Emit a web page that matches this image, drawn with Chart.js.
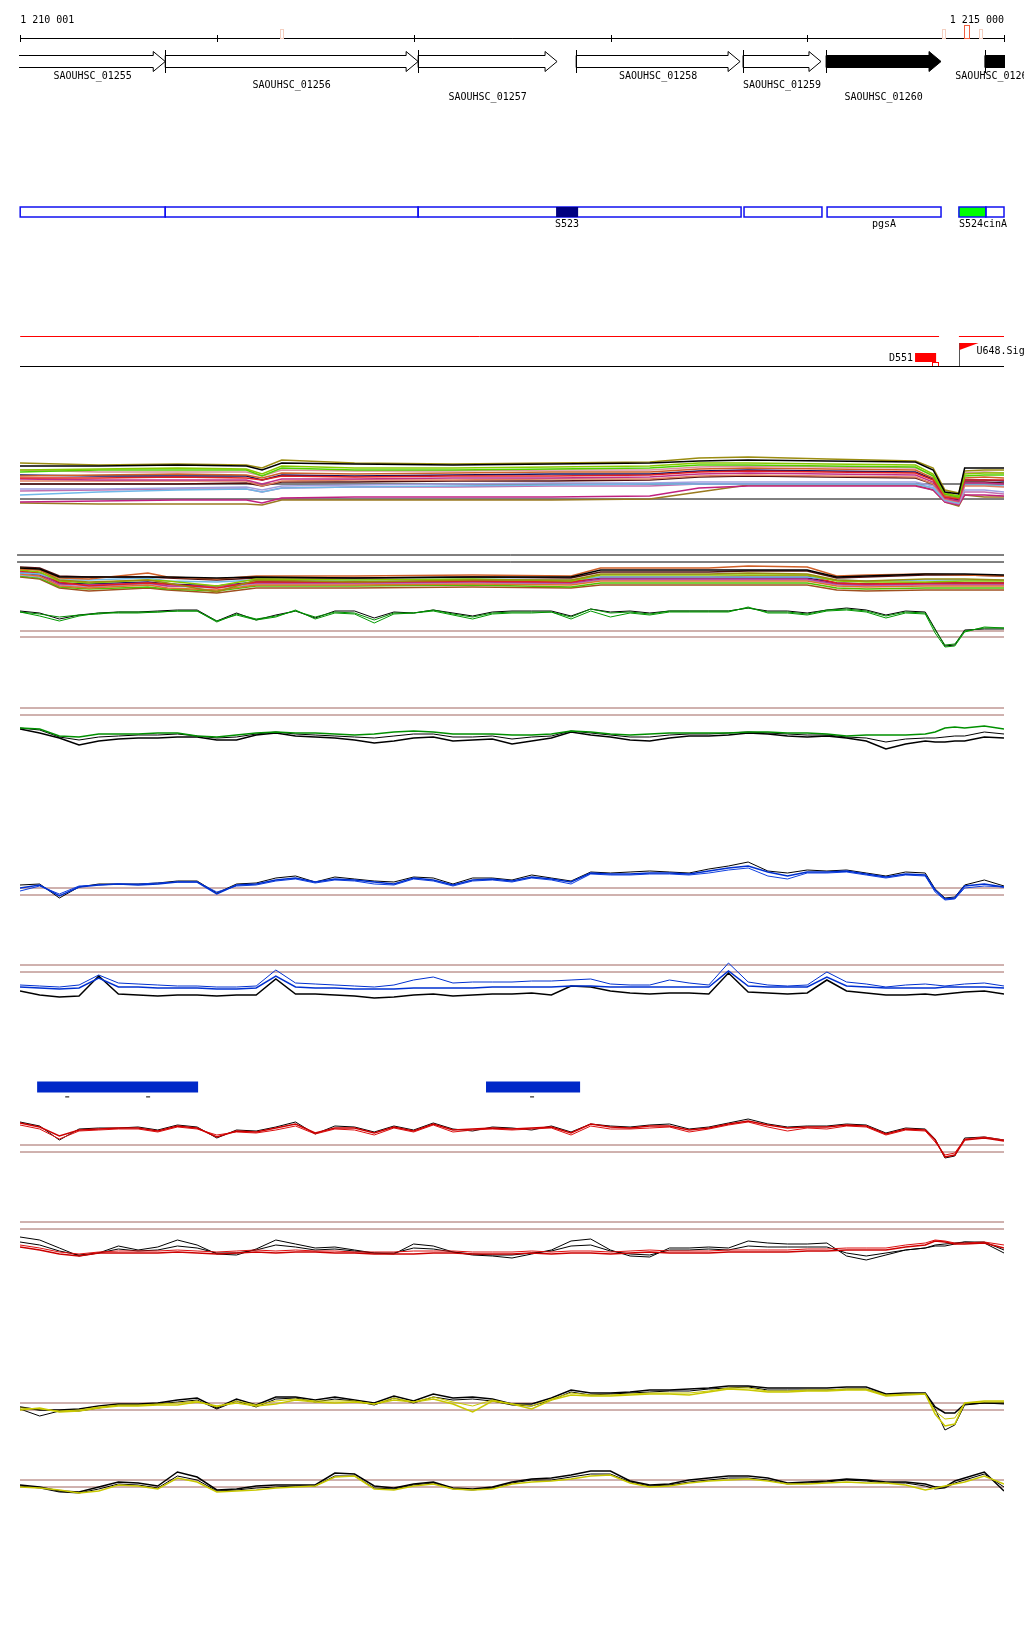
<!DOCTYPE html>
<html>
<head>
<meta charset="utf-8">
<script src="https://cdn.jsdelivr.net/npm/chart.js@4.4.1/dist/chart.umd.min.js"></script>
<style>
  body { margin: 0; background: #fff; }
  #page { position: relative; width: 1024px; height: 1640px; overflow: hidden; }
  #page canvas { position: absolute; left: 0; }
</style>
</head>
<body>
<div id="page"></div>
<script>
// ventana genomica
var startPos = 1210000, endPos = 1215000;
var rulerTicks = [1210001, 1211001, 1212001, 1213001, 1214001, 1215000];
var rulerLabels = ['1 210 001', '1 215 000'];
var markerPos = [1211327, 1214691, 1214808, 1214879];
var markerStrong = [false, false, true, false];

// genes
var geneNames = ['SAOUHSC_01255', 'SAOUHSC_01256', 'SAOUHSC_01257', 'SAOUHSC_01258', 'SAOUHSC_01259', 'SAOUHSC_01260', 'SAOUHSC_01261'];
var geneStarts = [1209800, 1210738, 1212023, 1212826, 1213674, 1214096, 1214903];
var geneEnds = [1210738, 1212023, 1212729, 1213659, 1214070, 1214680, 1215300];
var geneFilled = [false, false, false, false, false, true, true];
var geneRow = [0, 1, 2, 0, 1, 2, 0];

// anotaciones (cajas azules)
var featStarts = [1210001, 1210738, 1212023, 1212724, 1213679, 1214101, 1214771, 1214908];
var featEnds = [1210738, 1212023, 1213664, 1212836, 1214075, 1214680, 1214908, 1215000];
var featFill = ['', '', '', '#000080', '', '', '#00ff00', ''];
var featLabels = ['', '', '', 'S523', '', 'pgsA', 'S524cinA', ''];

// senales / promotores
var redLineStarts = [1210001, 1214771];
var redLineEnds = [1214670, 1215000];
var d551 = [1214548, 1214655];
var u648 = 1214771;

// posiciones de las curvas
var positions = [1210000,1210100,1210200,1210300,1210400,1210500,1210600,1210700,1210800,1210900,
  1211000,1211100,1211200,1211300,1211400,1211500,1211600,1211700,1211800,1211900,
  1212000,1212100,1212200,1212300,1212400,1212500,1212600,1212700,1212800,1212900,
  1213000,1213100,1213200,1213300,1213400,1213500,1213600,1213700,1213800,1213900,
  1214000,1214100,1214200,1214300,1214400,1214500,1214600,
  1214650,1214700,1214750,1214800,1214900,1215000];

// pista verde 1
var greenA = [1.9,1.7,1.4,1.6,1.7,1.9,1.9,1.9,2.0,2.0, 0.9,1.7,1.2,1.5,2.0,1.4,1.9,1.8,1.1,1.8,
  1.8,2.1,1.7,1.4,1.8,1.9,1.9,1.9,1.4,2.2, 1.8,1.9,1.7,2.0,2.0,2.0,2.0,2.3,1.9,1.9,
  1.7,2.1,2.2,2.0,1.5,1.9,1.8, 0.1,-1.4,-1.3,0.0,0.3,0.3];
var greenB = [1.9,1.5,1.0,1.5,1.8,1.8,1.8,1.9,2.0,2.0, 1.0,1.6,1.1,1.4,2.1,1.2,1.8,1.7,0.8,1.7,
  1.8,2.0,1.6,1.2,1.7,1.8,1.8,1.9,1.2,2.0, 1.4,1.8,1.6,1.9,1.9,1.9,1.9,2.4,1.8,1.8,
  1.6,2.0,2.1,1.9,1.3,1.8,1.7, -0.2,-1.6,-1.5,-0.1,0.4,0.3];
var greenBlack = [2.0,1.8,1.2,1.6,1.8,1.9,1.9,2.0,2.1,2.1, 1.0,1.8,1.1,1.6,2.0,1.3,2.0,2.0,1.3,1.9,
  1.8,2.1,1.8,1.5,1.9,2.0,2.0,2.0,1.5,2.2, 1.9,2.0,1.8,2.0,2.0,2.0,2.0,2.3,2.0,2.0,
  1.8,2.1,2.3,2.1,1.6,2.0,1.9, 0.2,-1.5,-1.4,0.1,0.2,0.2];

// pista verde 2
var greenD = [-2.0,-2.1,-2.8,-2.9,-2.6,-2.6,-2.6,-2.5,-2.5,-2.8, -2.9,-2.7,-2.5,-2.4,-2.5,-2.5,-2.6,-2.7,-2.6,-2.4,
  -2.3,-2.4,-2.6,-2.6,-2.6,-2.7,-2.7,-2.6,-2.3,-2.4, -2.6,-2.7,-2.6,-2.5,-2.5,-2.5,-2.5,-2.4,-2.4,-2.5,
  -2.5,-2.6,-2.8,-2.7,-2.7,-2.7,-2.6, -2.4,-2.0,-1.9,-2.0,-1.8,-2.1];
var blackD = [-2.1,-2.5,-3.0,-3.7,-3.3,-3.1,-3.0,-3.0,-2.9,-2.9, -3.2,-3.2,-2.7,-2.5,-2.8,-2.9,-3.0,-3.2,-3.5,-3.3,
  -3.0,-2.9,-3.3,-3.2,-3.1,-3.6,-3.3,-3.0,-2.4,-2.7, -2.9,-3.2,-3.3,-3.0,-2.8,-2.8,-2.7,-2.5,-2.6,-2.8,
  -2.9,-2.8,-3.0,-3.3,-4.1,-3.6,-3.3, -3.4,-3.4,-3.3,-3.3,-2.9,-3.0];
var black2D = [-2.0,-2.2,-2.9,-3.2,-2.9,-2.8,-2.7,-2.7,-2.6,-2.8, -3.0,-2.9,-2.6,-2.4,-2.6,-2.7,-2.8,-2.9,-3.0,-2.8,
  -2.6,-2.6,-2.9,-2.9,-2.8,-3.1,-2.9,-2.8,-2.3,-2.5, -2.7,-2.9,-2.9,-2.7,-2.6,-2.6,-2.5,-2.4,-2.5,-2.6,
  -2.7,-2.7,-2.9,-3.0,-3.4,-3.1,-3.0, -3.0,-2.9,-2.8,-2.8,-2.4,-2.6];

// pista azul 1
var blueE = [0.0,0.3,-0.8,0.1,0.3,0.4,0.3,0.4,0.6,0.6, -0.6,0.3,0.4,0.8,1.0,0.6,0.9,0.8,0.6,0.4,
  1.0,0.8,0.3,0.8,0.9,0.7,1.1,0.9,0.6,1.5, 1.4,1.4,1.5,1.5,1.4,1.7,2.0,2.2,1.6,1.2,
  1.6,1.6,1.7,1.4,1.1,1.4,1.3, -0.2,-1.1,-1.0,0.2,0.4,0.1];
var blue2E = [-0.3,0.2,-0.6,0.2,0.3,0.4,0.4,0.5,0.6,0.6, -0.4,0.2,0.3,0.7,0.9,0.5,0.8,0.7,0.4,0.3,
  0.9,0.7,0.2,0.7,0.8,0.6,1.0,0.8,0.4,1.4, 1.3,1.3,1.4,1.4,1.3,1.5,1.8,2.0,1.2,0.9,
  1.5,1.5,1.6,1.3,1.0,1.3,1.2, -0.4,-1.2,-1.1,0.0,0.2,0.1];
var blackE = [0.3,0.4,-1.0,0.1,0.4,0.4,0.4,0.5,0.7,0.7, -0.5,0.4,0.5,1.0,1.2,0.6,1.1,0.9,0.7,0.6,
  1.1,1.0,0.4,1.0,1.0,0.8,1.3,1.0,0.7,1.6, 1.5,1.6,1.7,1.6,1.5,1.9,2.2,2.6,1.7,1.5,
  1.8,1.7,1.8,1.5,1.2,1.6,1.5, -0.1,-1.0,-0.9,0.3,0.8,0.2];

// pista azul 2
var blueF = [-2.0,-2.1,-2.2,-2.0,-1.0,-1.8,-1.9,-2.0,-2.1,-2.1, -2.2,-2.2,-2.1,-0.5,-1.8,-1.9,-2.0,-2.1,-2.2,-2.0,
  -1.5,-1.2,-1.8,-1.7,-1.7,-1.7,-1.6,-1.6,-1.5,-1.4, -1.9,-2.0,-2.0,-1.5,-1.8,-2.0,0.2,-1.7,-2.0,-2.1,
  -2.0,-0.7,-1.7,-1.9,-2.2,-2.0,-1.9, -2.0,-2.1,-2.0,-1.9,-1.8,-2.1];
var blue2F = [-2.2,-2.3,-2.4,-2.3,-1.3,-2.2,-2.2,-2.3,-2.3,-2.3, -2.4,-2.4,-2.3,-1.1,-2.2,-2.3,-2.3,-2.4,-2.4,-2.4,
  -2.3,-2.3,-2.3,-2.3,-2.2,-2.2,-2.2,-2.2,-2.1,-2.1, -2.2,-2.2,-2.2,-2.2,-2.2,-2.2,-0.6,-2.1,-2.2,-2.2,
  -2.2,-1.2,-2.1,-2.2,-2.3,-2.3,-2.3, -2.3,-2.2,-2.2,-2.2,-2.2,-2.3];
var blackF = [-2.6,-3.0,-3.2,-3.1,-1.1,-2.9,-3.0,-3.1,-3.0,-3.0, -3.1,-3.0,-3.0,-1.4,-2.9,-2.9,-3.0,-3.1,-3.3,-3.2,
  -3.0,-2.9,-3.1,-3.0,-2.9,-2.9,-2.8,-3.0,-2.1,-2.2, -2.6,-2.8,-2.9,-2.8,-2.8,-2.9,-0.8,-2.7,-2.8,-2.9,
  -2.8,-1.5,-2.6,-2.8,-3.0,-3.0,-2.9, -3.0,-2.9,-2.8,-2.7,-2.6,-2.9];

// bloques azules
var blockStarts = [1210087, 1212368];
var blockEnds = [1210905, 1212846];
var blockMarks = [1210240, 1210651, 1212602];

// pista roja 1
var redH = [2.2,1.8,0.9,1.5,1.6,1.7,1.7,1.4,1.9,1.7, 0.8,1.4,1.3,1.7,2.1,1.2,1.7,1.7,1.2,1.8,
  1.4,2.1,1.5,1.6,1.7,1.6,1.7,1.8,1.2,2.1, 1.8,1.7,1.9,1.9,1.5,1.7,2.1,2.4,2.0,1.7,
  1.8,1.8,2.0,1.9,1.1,1.6,1.5, 0.5,-1.2,-1.0,0.5,0.7,0.4];
var red2H = [2.0,1.6,0.6,1.4,1.5,1.6,1.6,1.3,1.8,1.6, 1.0,1.3,1.2,1.5,1.9,1.1,1.6,1.5,1.0,1.7,
  1.3,2.0,1.3,1.5,1.6,1.5,1.6,1.7,1.0,1.9, 1.6,1.6,1.7,1.8,1.3,1.6,2.0,2.3,1.8,1.4,
  1.7,1.6,1.9,1.8,1.0,1.5,1.4, 0.3,-1.0,-0.8,0.6,0.8,0.5];
var blackH = [2.3,1.9,0.5,1.6,1.7,1.7,1.8,1.5,2.0,1.8, 0.7,1.5,1.4,1.8,2.3,1.1,1.9,1.8,1.3,1.9,
  1.5,2.2,1.6,1.4,1.8,1.7,1.5,1.9,1.3,2.1, 1.9,1.8,2.0,2.1,1.6,1.8,2.2,2.6,2.1,1.8,
  1.9,1.9,2.1,2.0,1.2,1.7,1.6, 0.6,-1.3,-1.1,0.7,0.8,0.5];

// pista roja 2
var redI = [-2.5,-2.8,-3.2,-3.4,-3.1,-3.1,-3.1,-3.1,-3.0,-3.1, -3.2,-3.1,-3.0,-3.1,-3.0,-3.0,-3.1,-3.1,-3.2,-3.2,
  -3.2,-3.1,-3.1,-3.2,-3.2,-3.2,-3.1,-3.2,-3.1,-3.1, -3.2,-3.1,-3.0,-3.1,-3.1,-3.1,-3.0,-3.0,-3.0,-3.0,
  -2.9,-2.9,-2.8,-2.8,-2.8,-2.5,-2.3, -1.9,-2.0,-2.2,-2.2,-2.1,-2.6];
var red2I = [-2.3,-2.6,-3.0,-3.2,-3.0,-2.9,-2.9,-2.9,-2.8,-2.9, -3.0,-2.9,-2.8,-2.9,-2.8,-2.9,-2.9,-3.0,-3.0,-3.0,
  -2.9,-2.9,-2.9,-3.0,-3.0,-3.0,-2.9,-3.0,-2.9,-2.9, -3.0,-2.9,-2.8,-2.9,-2.9,-2.9,-2.8,-2.8,-2.8,-2.8,
  -2.7,-2.7,-2.6,-2.6,-2.6,-2.3,-2.1, -1.8,-1.9,-2.1,-2.1,-2.0,-2.3];
var blackI = [-1.5,-1.8,-2.6,-3.4,-3.1,-2.4,-2.8,-2.5,-1.8,-2.3, -3.2,-3.3,-2.7,-1.8,-2.2,-2.6,-2.5,-2.8,-3.1,-3.2,
  -2.2,-2.4,-3.0,-3.3,-3.4,-3.6,-3.2,-2.8,-1.9,-1.7, -2.8,-3.4,-3.5,-2.6,-2.6,-2.5,-2.6,-1.9,-2.1,-2.2,
  -2.2,-2.1,-3.4,-3.8,-3.3,-2.8,-2.6, -2.4,-2.4,-2.2,-2.0,-2.1,-3.1];
var black2I = [-2.0,-2.3,-2.9,-3.3,-3.1,-2.7,-2.9,-2.8,-2.4,-2.6, -3.1,-3.1,-2.8,-2.3,-2.5,-2.8,-2.7,-2.9,-3.1,-3.1,
  -2.6,-2.7,-3.0,-3.2,-3.3,-3.3,-3.1,-2.9,-2.4,-2.3, -2.9,-3.2,-3.3,-2.8,-2.8,-2.7,-2.8,-2.4,-2.5,-2.5,
  -2.5,-2.5,-3.1,-3.4,-3.1,-2.8,-2.6, -2.3,-2.2,-2.1,-2.0,-2.0,-2.8];

// pista amarilla 1
var blackJ = [-0.4,-0.7,-0.7,-0.6,-0.3,-0.1,-0.1,0.0,0.3,0.5, -0.5,0.4,-0.2,0.6,0.6,0.3,0.6,0.3,0.0,0.7,
  0.2,0.9,0.5,0.6,0.4,-0.1,-0.1,0.5,1.3,1.0, 1.0,1.1,1.3,1.3,1.4,1.5,1.7,1.7,1.5,1.5,
  1.5,1.5,1.6,1.6,0.9,1.0,1.0, -0.4,-1.0,-1.0,-0.1,0.0,0.0];
var black2J = [-0.6,-1.3,-0.8,-0.8,-0.5,-0.2,-0.2,-0.1,0.1,0.3, -0.6,0.2,-0.4,0.4,0.5,0.1,0.4,0.2,-0.2,0.5,
  0.0,0.6,0.3,0.4,0.2,-0.2,-0.3,0.3,1.1,0.8, 0.9,1.0,1.1,1.2,1.2,1.4,1.5,1.6,1.3,1.3,
  1.3,1.3,1.4,1.4,0.8,0.9,0.9, -0.6,-2.7,-2.2,-0.2,0.0,-0.1];
var yellowJ = [-0.7,-0.5,-0.9,-0.8,-0.5,-0.3,-0.3,-0.2,-0.2,0.1, -0.3,0.0,-0.3,-0.1,0.3,0.1,0.0,0.1,-0.1,0.3,
  0.1,0.4,-0.1,-0.9,0.2,-0.1,-0.6,0.3,0.8,0.7, 0.7,0.8,0.9,0.9,0.8,1.1,1.4,1.3,1.1,1.1,
  1.2,1.2,1.3,1.3,0.7,0.8,0.9, -1.1,-2.3,-2.1,0.0,0.2,0.2];
var yellow2J = [-0.5,-0.6,-0.8,-0.7,-0.4,-0.2,-0.2,-0.1,0.0,0.2, -0.4,0.2,-0.2,0.2,0.4,0.2,0.2,0.2,-0.1,0.5,
  0.1,0.6,0.1,-0.3,0.3,-0.1,-0.3,0.4,1.0,0.8, 0.8,0.9,1.0,1.0,1.0,1.2,1.5,1.5,1.2,1.2,
  1.3,1.3,1.4,1.4,0.8,0.9,0.9, -0.8,-1.6,-1.5,0.0,0.1,0.1];

// pista amarilla 2
var blackK = [-0.5,-0.7,-1.1,-1.2,-0.7,-0.2,-0.3,-0.6,0.8,0.3, -1.0,-0.9,-0.6,-0.5,-0.5,-0.5,0.7,0.6,-0.6,-0.8,
  -0.4,-0.2,-0.8,-0.9,-0.7,-0.2,0.1,0.2,0.5,0.9, 0.9,-0.1,-0.5,-0.4,0.0,0.2,0.4,0.4,0.2,-0.3,
  -0.2,-0.1,0.1,0.0,-0.2,-0.2,-0.4, -0.7,-0.7,-0.1,0.2,0.8,-1.1];
var black2K = [-0.6,-0.8,-1.2,-1.3,-0.9,-0.4,-0.5,-0.8,0.4,0.0, -1.1,-1.0,-0.8,-0.7,-0.6,-0.6,0.4,0.4,-0.8,-0.9,
  -0.5,-0.3,-0.9,-1.0,-0.8,-0.3,0.0,0.0,0.3,0.6, 0.6,-0.2,-0.6,-0.5,-0.2,0.0,0.2,0.2,0.0,-0.4,
  -0.3,-0.2,0.0,-0.1,-0.3,-0.3,-0.6, -0.9,-0.8,-0.3,0.0,0.6,-0.7];
var yellowK = [-0.7,-0.8,-1.0,-1.3,-1.1,-0.5,-0.6,-0.9,0.2,-0.2, -1.2,-1.1,-1.0,-0.8,-0.7,-0.6,0.3,0.4,-0.9,-1.0,
  -0.6,-0.4,-0.9,-1.0,-0.9,-0.4,-0.2,-0.1,0.1,0.4, 0.5,-0.3,-0.7,-0.6,-0.3,-0.1,0.0,0.1,-0.1,-0.4,
  -0.4,-0.3,-0.2,-0.3,-0.3,-0.5,-1.0, -0.8,-0.6,-0.4,-0.2,0.4,-0.4];

// haz de curvas 1 (muestras)
var bundle1Pos = [1210000,1210400,1210800,1211150,1211230,1211330,1211700,1212200,1212700,1213200,
  1213450,1213700,1214100,1214550,1214640,1214700,1214770,1214800,1214900,1215000];
var bundle1Colors = ['#000000','#9a8c10','#88c800','#50d000','#d06028','#e02020','#c0308a','#e08060',
  '#101060','#70b8e8','#a0a0e0','#c070b0','#c02080','#9a7a20','#501010','#d890a0'];
var bundle1Values = [
  [1.8,1.8,1.9,1.8,1.4,2.1,2.0,1.9,2.0,2.1,2.3,2.4,2.3,2.2,1.4,-0.8,-1.0,1.6,1.6,1.6],
  [2.1,1.9,2.0,1.9,1.6,2.4,2.1,2.0,2.1,2.2,2.6,2.7,2.5,2.3,1.6,-0.6,-0.9,1.3,1.4,1.4],
  [1.4,1.5,1.6,1.5,1.0,1.8,1.6,1.6,1.7,1.8,2.1,2.1,2.0,1.9,1.0,-0.9,-1.2,1.0,1.1,1.1],
  [1.2,1.4,1.4,1.4,0.8,1.6,1.4,1.4,1.5,1.6,1.9,1.9,1.8,1.7,0.8,-1.0,-1.3,0.8,0.9,0.9],
  [0.8,0.9,1.0,0.9,0.6,1.1,1.0,1.1,1.2,1.2,1.5,1.6,1.5,1.4,0.6,-1.2,-1.4,0.6,0.7,0.6],
  [0.6,0.6,0.7,0.6,0.4,0.8,0.7,0.8,0.8,0.9,1.2,1.3,1.2,1.1,0.4,-1.3,-1.5,0.4,0.4,0.4],
  [0.5,0.4,0.4,0.4,0.0,0.5,0.5,0.6,0.6,0.7,1.0,1.1,1.0,0.9,0.2,-1.4,-1.7,0.1,0.1,0.0],
  [0.3,0.3,0.3,0.3,-0.2,0.3,0.4,0.4,0.5,0.5,0.8,0.9,0.8,0.7,0.0,-1.5,-1.8,-0.2,-0.2,-0.3],
  [0.9,0.8,0.8,0.8,0.4,0.9,0.8,0.9,1.0,1.0,1.3,1.4,1.3,1.2,0.5,-1.3,-1.6,0.4,0.4,0.3],
  [-1.1,-0.8,-0.6,-0.5,-0.8,-0.4,-0.3,-0.2,-0.1,0.0,0.0,0.0,0.0,0.0,-0.4,-1.6,-1.9,-0.1,-0.1,-0.2],
  [-0.5,-0.5,-0.4,-0.3,-0.6,-0.2,-0.1,0.0,0.1,0.1,0.2,0.2,0.2,0.2,-0.2,-1.6,-1.9,-0.6,-0.6,-0.8],
  [-0.7,-0.6,-0.5,-0.5,-0.8,-0.4,-0.3,-0.3,-0.2,-0.2,0.0,0.0,0.0,0.0,-0.4,-1.7,-2.0,-0.8,-0.8,-1.0],
  [-1.8,-1.7,-1.6,-1.6,-1.9,-1.4,-1.3,-1.3,-1.3,-1.2,-0.4,-0.2,-0.2,-0.2,-0.6,-1.8,-2.1,-1.1,-1.1,-1.2],
  [-1.9,-2.0,-2.0,-2.0,-2.1,-1.6,-1.6,-1.6,-1.6,-1.5,-0.8,-0.1,-0.1,-0.1,-0.6,-1.8,-2.2,-1.1,-1.3,-1.3],
  [0.0,0.0,0.0,0.1,-0.2,0.2,0.2,0.3,0.3,0.4,0.7,0.8,0.7,0.6,0.0,-1.5,-1.8,0.2,0.2,0.1],
  [1.4,1.2,1.2,1.2,0.8,1.4,1.3,1.3,1.4,1.4,1.7,1.8,1.7,1.6,0.9,-1.1,-1.4,1.1,1.2,1.1]
];

// haz de curvas 2 (muestras)
var bundle2Pos = [1210000,1210100,1210200,1210350,1210650,1210750,1211000,1211200,1211700,1212300,
  1212800,1212950,1213500,1213700,1214000,1214150,1214300,1214600,1214800,1215000];
var bundle2Colors = ['#000000','#d06028','#9a8c10','#88c800','#70b8e8','#e02020','#c0308a','#e07030',
  '#101060','#a0a0e0','#50c000','#a05020','#501010'];
var bundle2Values = [
  [-0.6,-0.7,-1.5,-1.5,-1.5,-1.5,-1.6,-1.5,-1.6,-1.5,-1.5,-0.8,-0.8,-0.8,-0.8,-1.5,-1.4,-1.2,-1.2,-1.3],
  [-0.7,-0.8,-1.6,-1.7,-1.1,-1.5,-1.7,-1.4,-1.4,-1.3,-1.4,-0.6,-0.6,-0.4,-0.5,-1.4,-1.3,-1.2,-1.3,-1.4],
  [-0.6,-0.8,-1.8,-2.0,-1.8,-2.1,-3.0,-1.8,-2.0,-1.8,-1.8,-1.2,-1.2,-1.1,-1.2,-1.8,-1.9,-1.7,-1.7,-1.8],
  [-0.8,-1.0,-1.9,-2.1,-1.8,-1.9,-2.4,-1.7,-1.8,-1.7,-1.9,-1.3,-1.3,-1.3,-1.3,-1.9,-2.0,-2.0,-1.9,-1.9],
  [-1.1,-1.2,-1.8,-1.8,-1.6,-1.9,-2.0,-1.8,-1.8,-1.7,-1.8,-1.5,-1.5,-1.5,-1.5,-1.8,-1.9,-1.8,-1.8,-1.8],
  [-0.9,-1.1,-2.0,-2.4,-2.1,-2.2,-2.6,-2.0,-2.0,-1.9,-2.0,-1.5,-1.5,-1.4,-1.4,-2.1,-2.2,-2.1,-2.1,-2.1],
  [-1.0,-1.2,-2.2,-2.3,-2.1,-2.4,-2.4,-2.1,-2.1,-2.0,-2.1,-1.7,-1.7,-1.7,-1.7,-2.2,-2.3,-2.2,-2.2,-2.2],
  [-1.2,-1.4,-2.4,-2.6,-2.3,-2.6,-2.8,-2.3,-2.3,-2.2,-2.3,-1.9,-1.9,-1.9,-1.9,-2.4,-2.5,-2.4,-2.4,-2.4],
  [-1.1,-1.3,-2.1,-2.2,-2.0,-2.2,-2.4,-2.0,-2.0,-1.9,-2.0,-1.6,-1.6,-1.6,-1.6,-2.1,-2.2,-2.1,-2.1,-2.1],
  [-1.3,-1.5,-2.3,-2.5,-2.2,-2.4,-2.6,-2.2,-2.2,-2.1,-2.2,-1.8,-1.8,-1.8,-1.8,-2.3,-2.4,-2.3,-2.3,-2.3],
  [-1.4,-1.6,-2.5,-2.7,-2.5,-2.7,-2.9,-2.4,-2.4,-2.3,-2.5,-2.1,-2.1,-2.1,-2.1,-2.6,-2.7,-2.6,-2.6,-2.6],
  [-1.5,-1.7,-2.6,-2.9,-2.6,-2.8,-3.1,-2.6,-2.6,-2.5,-2.6,-2.3,-2.3,-2.3,-2.3,-2.8,-2.9,-2.8,-2.8,-2.8],
  [-0.5,-0.6,-1.4,-1.5,-1.5,-1.6,-1.8,-1.6,-1.6,-1.5,-1.6,-1.0,-1.0,-0.9,-0.9,-1.6,-1.5,-1.3,-1.3,-1.4]
];

var BROWN = '#a0645f';
var FONT = '10px "DejaVu Sans Mono", monospace';
var page = document.getElementById('page');

function series(xs, ys, color, width) {
    return {
        data: xs.map(function (p, i) { return { x: p, y: ys[i] }; }),
        borderColor: color,
        borderWidth: width || 1,
        pointRadius: 0,
        fill: false
    };
}

function refLine(v, color, from) {
    return {
        data: [{ x: from || startPos, y: v }, { x: endPos, y: v }],
        borderColor: color || BROWN,
        borderWidth: 1,
        pointRadius: 0,
        clip: false
    };
}

function makeChart(top, height, yMin, yMax, datasets, plugins) {
    var canvas = document.createElement('canvas');
    canvas.width = 1024;
    canvas.height = height;
    canvas.style.top = top + 'px';
    page.appendChild(canvas);
    return new Chart(canvas.getContext('2d'), {
        type: 'line',
        data: { datasets: datasets },
        plugins: plugins || [],
        options: {
            responsive: false,
            animation: false,
            devicePixelRatio: 1,
            layout: { padding: { left: 20, right: 20, top: 0, bottom: 0 } },
            scales: {
                x: { type: 'linear', min: startPos, max: endPos, display: false },
                y: { min: yMin, max: yMax, display: false }
            },
            plugins: { legend: { display: false }, tooltip: { enabled: false } },
            elements: { line: { tension: 0 }, point: { radius: 0 } }
        }
    });
}

// regla, genes y anotaciones
var headerPlugin = {
    id: 'header',
    afterDatasetsDraw: function (chart) {
        var ctx = chart.ctx;
        var sx = chart.scales.x;
        var area = chart.chartArea;
        function px(p) { return sx.getPixelForValue(p); }
        ctx.save();
        ctx.font = FONT;
        ctx.textBaseline = 'middle';
        ctx.fillStyle = '#000';
        ctx.strokeStyle = '#000';
        ctx.lineWidth = 1;

        // regla
        ctx.beginPath();
        ctx.moveTo(px(rulerTicks[0]), 38.5);
        ctx.lineTo(px(rulerTicks[rulerTicks.length - 1]), 38.5);
        rulerTicks.forEach(function (t) {
            var x = Math.round(px(t)) + 0.5;
            ctx.moveTo(x, 35);
            ctx.lineTo(x, 42);
        });
        ctx.stroke();
        ctx.textAlign = 'left';
        ctx.fillText(rulerLabels[0], px(rulerTicks[0]), 20);
        ctx.textAlign = 'right';
        ctx.fillText(rulerLabels[1], px(rulerTicks[rulerTicks.length - 1]), 20);
        markerPos.forEach(function (p, i) {
            var x = Math.round(px(p)) + 0.5;
            ctx.strokeStyle = markerStrong[i] ? '#f06040' : '#f4cfc0';
            if (markerStrong[i]) ctx.strokeRect(x - 2, 25.5, 5, 13);
            else ctx.strokeRect(x - 1, 29.5, 3, 9);
        });

        // genes
        ctx.strokeStyle = '#000';
        var rowY = [76, 85, 97];
        geneNames.forEach(function (name, i) {
            var x1 = px(geneStarts[i]), x2 = px(geneEnds[i]);
            ctx.save();
            ctx.beginPath();
            ctx.rect(area.left - 1, 0, area.right - area.left + 2, 200);
            ctx.clip();
            ctx.beginPath();
            ctx.moveTo(x1, 55.5);
            ctx.lineTo(x2 - 12, 55.5);
            ctx.lineTo(x2 - 12, 51.5);
            ctx.lineTo(x2, 61.5);
            ctx.lineTo(x2 - 12, 71.5);
            ctx.lineTo(x2 - 12, 67.5);
            ctx.lineTo(x1, 67.5);
            ctx.closePath();
            ctx.fillStyle = geneFilled[i] ? '#000' : '#fff';
            ctx.fill();
            ctx.stroke();
            if (geneStarts[i] >= startPos) {
                ctx.beginPath();
                ctx.moveTo(Math.round(x1) + 0.5, 50);
                ctx.lineTo(Math.round(x1) + 0.5, 73);
                ctx.stroke();
            }
            ctx.restore();
            var cx = (Math.max(x1, area.left) + Math.min(x2, area.right)) / 2;
            ctx.fillStyle = '#000';
            ctx.textAlign = 'center';
            ctx.fillText(name, cx, rowY[geneRow[i]]);
        });

        // cajas azules
        ctx.lineWidth = 1.5;
        featStarts.forEach(function (s, i) {
            var x1 = px(s), x2 = px(featEnds[i]);
            if (featFill[i]) {
                ctx.fillStyle = featFill[i];
                ctx.fillRect(x1, 207, x2 - x1, 10);
            }
            if (featFill[i] !== '#000080') {
                ctx.strokeStyle = '#1010f0';
                ctx.strokeRect(x1, 207, x2 - x1, 10);
            }
            if (featLabels[i]) {
                ctx.fillStyle = '#000';
                if (i === 6) {
                    ctx.textAlign = 'left';
                    ctx.fillText(featLabels[i], x1, 224);
                } else {
                    ctx.textAlign = 'center';
                    ctx.fillText(featLabels[i], (x1 + x2) / 2, 224);
                }
            }
        });

        // senales rojas
        ctx.lineWidth = 1;
        ctx.strokeStyle = '#ff0000';
        ctx.beginPath();
        redLineStarts.forEach(function (s, i) {
            ctx.moveTo(px(s), 336.5);
            ctx.lineTo(px(redLineEnds[i]), 336.5);
        });
        ctx.stroke();
        ctx.fillStyle = '#ff0000';
        ctx.fillRect(px(d551[0]), 353, px(d551[1]) - px(d551[0]), 9);
        ctx.strokeRect(Math.round(px(d551[1])) - 3.5, 362.5, 6, 4);
        ctx.fillStyle = '#000';
        ctx.textAlign = 'right';
        ctx.fillText('D551', px(d551[0]) - 2, 358);

        var fx = Math.round(px(u648)) + 0.5;
        ctx.strokeStyle = '#555';
        ctx.beginPath();
        ctx.moveTo(fx, 343);
        ctx.lineTo(fx, 366);
        ctx.stroke();
        ctx.fillStyle = '#ff0000';
        ctx.beginPath();
        ctx.moveTo(fx, 343);
        ctx.lineTo(fx + 19, 343);
        ctx.lineTo(fx, 350);
        ctx.closePath();
        ctx.fill();
        ctx.fillStyle = '#000';
        ctx.textAlign = 'left';
        ctx.fillText('U648.Sig', fx + 17, 351);

        ctx.strokeStyle = '#000';
        ctx.beginPath();
        ctx.moveTo(px(startPos), 366.5);
        ctx.lineTo(px(endPos), 366.5);
        ctx.stroke();
        ctx.restore();
    }
};

makeChart(0, 380, 0, 1, [], [headerPlugin]);

// haz 1
var b1 = bundle1Values.map(function (v, i) { return series(bundle1Pos, v, bundle1Colors[i], 1.5); });
b1.push(refLine(0, '#000'), refLine(-1.5, '#000'));
makeChart(434, 100, -5, 5, b1);

// haz 2
var b2 = bundle2Values.map(function (v, i) { return series(bundle2Pos, v, bundle2Colors[i], 1.5); });
b2.push(refLine(0.7, '#000', 1209985), refLine(0, '#000', 1209985));
makeChart(512, 100, -5, 5, b2);

// pistas verdes
makeChart(581, 100, -5, 5, [
    series(positions, greenA, '#008c00'),
    series(positions, greenB, '#009a00'),
    series(positions, greenBlack, '#000'),
    refLine(0), refLine(-0.6)
]);
makeChart(658, 100, -5, 5, [
    series(positions, greenD, '#009000', 1.5),
    series(positions, black2D, '#000'),
    series(positions, blackD, '#000', 1.5),
    refLine(0), refLine(-0.7)
]);

// pistas azules
makeChart(838, 100, -5, 5, [
    series(positions, blueE, '#0030d0', 1.5),
    series(positions, blue2E, '#1040e0'),
    series(positions, blackE, '#000'),
    refLine(0), refLine(-0.7)
]);
makeChart(915, 100, -5, 5, [
    series(positions, blueF, '#0030d0'),
    series(positions, blue2F, '#0030d0', 1.5),
    series(positions, blackF, '#000', 1.5),
    refLine(0), refLine(-0.7)
]);

// bloques azules
var blockData = [];
blockStarts.forEach(function (s, i) {
    if (i > 0) blockData.push({ x: s - 1, y: null });
    blockData.push({ x: s, y: 0 }, { x: blockEnds[i], y: 0 });
});
makeChart(1037, 100, -5, 5, [
    { data: blockData, borderColor: '#0028c8', borderWidth: 11, borderCapStyle: 'butt', pointRadius: 0, spanGaps: false },
    { data: blockMarks.map(function (p) { return { x: p, y: -1.1 }; }), showLine: false,
      pointStyle: 'line', pointRadius: 2, pointBorderWidth: 1, pointBorderColor: '#000', borderColor: '#000' }
]);

// pistas rojas
makeChart(1095, 100, -5, 5, [
    series(positions, redH, '#cc0000', 1.5),
    series(positions, red2H, '#dd1010'),
    series(positions, blackH, '#000'),
    refLine(0), refLine(-0.7)
]);
makeChart(1172, 100, -5, 5, [
    series(positions, redI, '#cc0000', 1.5),
    series(positions, red2I, '#dd1010'),
    series(positions, black2I, '#000'),
    series(positions, blackI, '#000'),
    refLine(0), refLine(-0.7)
]);

// pistas amarillas
makeChart(1353, 100, -5, 5, [
    series(positions, yellowJ, '#c8c800', 1.5),
    series(positions, yellow2J, '#c8c800'),
    series(positions, blackJ, '#000', 1.5),
    series(positions, black2J, '#000'),
    refLine(0), refLine(-0.7)
]);
makeChart(1430, 100, -5, 5, [
    series(positions, yellowK, '#c8c800', 1.5),
    series(positions, black2K, '#000'),
    series(positions, blackK, '#000', 1.5),
    refLine(0), refLine(-0.7)
]);
</script>
</body>
</html>
